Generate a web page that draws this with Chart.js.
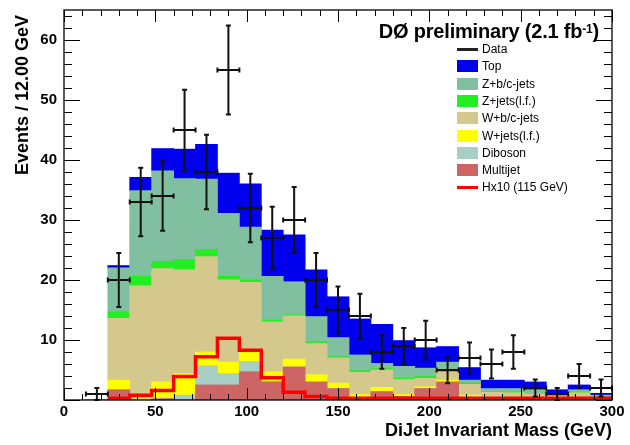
<!DOCTYPE html>
<html><head><meta charset="utf-8">
<script src="https://cdn.jsdelivr.net/npm/chart.js@4/dist/chart.umd.min.js"></script>
<style>
html,body{margin:0;padding:0;background:#fff;}
#wrap{position:relative;width:630px;height:445px;overflow:hidden;font-family:'Liberation Sans',Arial,Helvetica,sans-serif;}
canvas{position:absolute;left:0;top:0;}
.t{position:absolute;color:#000;white-space:nowrap;}
.leg{position:absolute;font-size:12px;line-height:14px;color:#000;white-space:nowrap;}
.box{position:absolute;width:21px;height:12px;}
.ln{position:absolute;width:21px;}
</style></head><body>
<div id="wrap"><canvas id="c" width="630" height="445"></canvas></div>
<script>
// ---- data (bins of 12 GeV, centres) ----
const binCenters = [18,30,42,54,66,78,90,102,114,126,138,150,162,174,186,198,210,222,234,246,258,270,282,294];
const dataCounts = [1,20,33,34,45,38,55,32,27,30,20,15,14,8,9,10,5,7,6,8,2,1,4,2];
const dataErr    = [1.0,4.5,5.7,5.8,6.7,6.2,7.4,5.7,5.2,5.5,4.5,3.9,3.7,2.8,3.0,3.2,2.2,2.6,2.4,2.8,1.4,1.0,2.0,1.4];
const multijet = [0,1.7,0,0.2,0,2.5,2.5,4.7,3.0,5.5,3.0,1.9,0.4,1.4,0.6,1.9,3.0,0.4,0.2,0.2,0.2,0.1,0.2,0.1];
const diboson  = [0,0,0,0.1,0.8,3.2,1.9,1.7,0.1,0,0,0,0,0,0,0,0,0.1,0,0,0,0,0,0];
const wLF      = [0,1.6,0.2,2.7,3.6,2.3,1.9,1.6,1.6,1.3,1.2,0.9,0.5,0.7,0.3,0.3,0.3,0.3,0.2,0.2,0.1,0.1,0.2,0.1];
const wBC      = [0,10.3,18.8,18.9,17.3,15.9,13.7,11.6,8.3,7.2,5.2,4.2,3.7,2.9,2.5,1.4,1.3,1.8,0.9,0.8,0.7,0.4,0.8,0.3];
const zLF      = [0,1.1,1.6,1.2,1.7,1.2,0.6,0.4,0.3,0.2,0.3,0.2,0.3,0.2,0.2,0.3,0.2,0.2,0.1,0.1,0.1,0.1,0.1,0.1];
const zBC      = [0,7.3,14.3,15.1,13.5,11.7,10.5,8.8,7.3,5.5,4.2,3.2,2.6,0.9,2.0,1.4,1.5,0.5,0.5,0.6,0.6,0.4,0.4,0.2];
const topQuark = [0,0.4,2.2,3.7,4.9,5.8,6.7,7.2,7.7,7.8,7.8,6.8,6.0,6.5,4.3,3.4,2.6,2.1,1.4,1.4,1.3,0.6,0.8,0.3];
// Higgs x10 signal, step line at lower bin edges (last point closes the histogram)
const hxEdges  = [24,36,48,60,72,84,96,108,120,132,144,156,168,180,192,204,216,228,240,252,264,276,288,300];
const hx10     = [0.3,0.3,0.8,1.6,3.9,7.2,10.3,8.3,3.7,1.3,0.6,0.3,0.3,0.3,0.3,0.3,0.3,0.3,0.3,0.3,0.3,0.3,0.3,0.3];
const binHalf = 6;
const xTicks = [0,50,100,150,200,250,300];
const yTicks = [10,20,30,40,50,60];

const legendItems = [
  {label:'Data', type:'line', color:'#222'},
  {label:'Top', type:'box', color:'#0000ee'},
  {label:'Z+b/c-jets', type:'box', color:'#80bfa0'},
  {label:'Z+jets(l.f.)', type:'box', color:'#22ee22'},
  {label:'W+b/c-jets', type:'box', color:'#d5c88c'},
  {label:'W+jets(l.f.)', type:'box', color:'#ffff00'},
  {label:'Diboson', type:'box', color:'#a8cfc6'},
  {label:'Multijet', type:'box', color:'#cd6565'},
  {label:'Hx10 (115 GeV)', type:'line', color:'#ff0000'}
];

const pts = a => a.map((v,i)=>({x:binCenters[i], y:v}));
function barDs(label, arr, color){
  return {type:'bar', label, data:pts(arr), backgroundColor:color, borderWidth:0,
          stack:'bg', order:2, barPercentage:1.0, categoryPercentage:1.0, inflateAmount:0.4};
}

const rootAxes = {
  id:'rootAxes',
  afterDatasetsDraw(chart){
    const {ctx, chartArea:a, scales:{x,y}} = chart;
    ctx.save();
    // data error bars
    ctx.strokeStyle='#111'; ctx.lineWidth=2; ctx.lineCap='butt';
    dataCounts.forEach((v,i)=>{
      const cx = x.getPixelForValue(binCenters[i]);
      const x0 = x.getPixelForValue(binCenters[i]-binHalf);
      const x1 = x.getPixelForValue(binCenters[i]+binHalf);
      const yv = y.getPixelForValue(v);
      const yl = y.getPixelForValue(Math.max(0,v-dataErr[i]));
      const yh = y.getPixelForValue(v+dataErr[i]);
      ctx.beginPath();
      ctx.moveTo(x0,yv); ctx.lineTo(x1,yv);
      ctx.moveTo(cx,yl); ctx.lineTo(cx,yh);
      ctx.moveTo(x0,yv-2.5); ctx.lineTo(x0,yv+2.5);
      ctx.moveTo(x1,yv-2.5); ctx.lineTo(x1,yv+2.5);
      ctx.moveTo(cx-2.5,yh); ctx.lineTo(cx+2.5,yh);
      ctx.moveTo(cx-2.5,yl); ctx.lineTo(cx+2.5,yl);
      ctx.stroke();
    });
    // frame
    ctx.strokeStyle='#000'; ctx.lineWidth=1.3;
    ctx.strokeRect(a.left, a.top, a.right-a.left, a.bottom-a.top);
    ctx.lineWidth=1;
    ctx.beginPath();
    for(let v=0; v<=300; v+=10){
      const px = Math.round(x.getPixelForValue(v))+0.5;
      const L = (v%50===0)?12:6;
      ctx.moveTo(px,a.bottom); ctx.lineTo(px,a.bottom-L);
      ctx.moveTo(px,a.top); ctx.lineTo(px,a.top+L);
    }
    for(let v=0; v<=64; v+=2){
      const py = Math.round(y.getPixelForValue(v))+0.5;
      const L = (v%10===0)?16:8;
      ctx.moveTo(a.left,py); ctx.lineTo(a.left+L,py);
      ctx.moveTo(a.right,py); ctx.lineTo(a.right-L,py);
    }
    ctx.stroke();
    ctx.restore();
  }
};

const chart = new Chart(document.getElementById('c'), {
  data:{
    datasets:[
      {type:'line', label:'Hx10 (115 GeV)', data:hxEdges.map((e,i)=>({x:e,y:hx10[i]})),
       borderColor:'#ff0000', borderWidth:3.5, stepped:'after', pointRadius:0, fill:false,
       stack:'hx', order:0},
      {type:'line', label:'Data', data:pts(dataCounts), showLine:false, pointRadius:0,
       stack:'data', order:0},
      barDs('Multijet', multijet, '#cd6565'),
      barDs('Diboson', diboson, '#a8cfc6'),
      barDs('W+jets(l.f.)', wLF, '#ffff00'),
      barDs('W+b/c-jets', wBC, '#d5c88c'),
      barDs('Z+jets(l.f.)', zLF, '#22ee22'),
      barDs('Z+b/c-jets', zBC, '#80bfa0'),
      barDs('Top', topQuark, '#0000ee')
    ]
  },
  options:{
    responsive:false, animation:false, devicePixelRatio:1,
    layout:{padding:{left:0,right:18,top:10,bottom:0}},
    plugins:{legend:{display:false}, tooltip:{enabled:false}},
    scales:{
      x:{type:'linear', min:0, max:300, offset:false,
         afterFit(s){ s.height = 45; s.paddingLeft = 0; s.paddingRight = 0; },
         afterBuildTicks(s){ s.ticks = xTicks.map(v=>({value:v})); },
         grid:{display:false, drawTicks:false, offset:false}, border:{display:false},
         ticks:{color:'#000', padding:3, maxRotation:0, font:{family:'Liberation Sans', size:15, weight:'bold'}}},
      y:{type:'linear', min:0, max:65, stacked:true,
         afterFit(s){ s.width = 64; s.paddingTop = 0; s.paddingBottom = 0; },
         afterBuildTicks(s){ s.ticks = yTicks.map(v=>({value:v})); },
         grid:{display:false, drawTicks:false}, border:{display:false},
         ticks:{color:'#000', padding:7, font:{family:'Liberation Sans', size:15, weight:'bold'}}}
    }
  },
  plugins:[rootAxes]
});

// overlay texts (title, legend, axis titles)
const wrap = document.getElementById('wrap');
function addDiv(cls, html, css){ const d=document.createElement('div'); d.className=cls; d.innerHTML=html; Object.assign(d.style,css); wrap.appendChild(d); return d; }
addDiv('t', 'DØ preliminary (2.1 fb<sup style="font-size:12px;position:relative;top:-2px;vertical-align:top;">-1</sup>)',
  {right:'31px', top:'19px', fontSize:'20px', fontWeight:'bold', lineHeight:'24px', letterSpacing:'-0.2px'});
addDiv('t', 'Events / 12.00 GeV', {left:'-78px', top:'104px', width:'200px', height:'22px', lineHeight:'22px',
  textAlign:'right', fontSize:'18px', fontWeight:'bold', transform:'rotate(-90deg)'});
addDiv('t', 'DiJet Invariant Mass (GeV)', {left:'312px', width:'300px', top:'419px', lineHeight:'22px',
  textAlign:'right', fontSize:'18px', fontWeight:'bold'});
legendItems.forEach((it,i)=>{
  const cy = 49 + i*17.3;
  if(it.type==='box') addDiv('box','',{left:'457px', top:(cy-6)+'px', background:it.color});
  else addDiv('ln','',{left:'457px', top:(cy-1.5)+'px', height:'3px', background:it.color});
  addDiv('leg', it.label, {left:'482px', top:(cy-7)+'px'});
});
</script>
</body></html>
